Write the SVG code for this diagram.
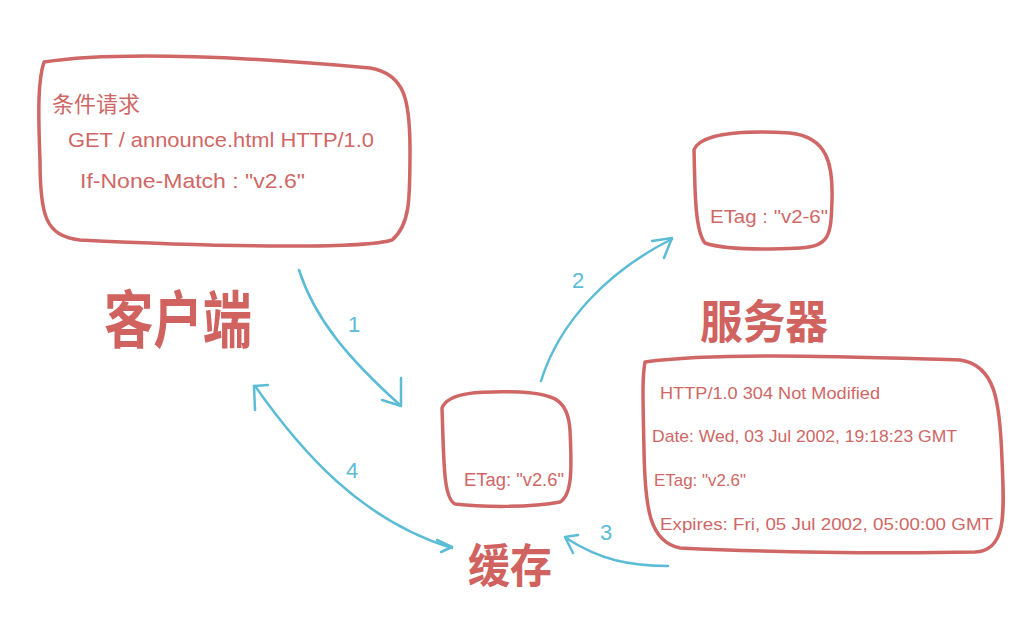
<svg xmlns="http://www.w3.org/2000/svg" width="1014" height="638" viewBox="0 0 1014 638">
<style>
.box{fill:none;stroke:#cf6766;stroke-width:3.5;stroke-linecap:round;stroke-linejoin:round}
.t{fill:#cf6766;font-family:"Liberation Sans","Noto Sans CJK SC",sans-serif}
.big{fill:#d0625f;font-family:"Noto Sans CJK SC",sans-serif;font-weight:bold}
.c{fill:none;stroke:#5cbcd6;stroke-width:2.5;stroke-linecap:round;stroke-linejoin:round}
.n{fill:#5cbcd6;font-family:"Liberation Sans",sans-serif;font-size:22px}
</style>
<rect width="1014" height="638" fill="#ffffff"/>
<g id="client">
<path class="box" d="M44,62 C120,50 260,58 370,68 C405,74 410,100 410,150 C410,200 410,225 392,240 C360,250 200,246 80,240 C45,236 40,215 40,160 C38,110 38,80 44,62 Z"/>
<text class="t" x="52" y="112" font-size="22">条件请求</text>
<text class="t" x="68" y="147" font-size="21" textLength="306" lengthAdjust="spacingAndGlyphs">GET / announce.html HTTP/1.0</text>
<text class="t" x="80" y="188" font-size="21" textLength="225" lengthAdjust="spacingAndGlyphs">If-None-Match : "v2.6"</text>
<text class="big" x="104" y="343" font-size="62" textLength="148" lengthAdjust="spacingAndGlyphs">客户端</text>
</g>
<g id="server">
<path class="box" d="M694,150 C700,134 740,130 790,133 C828,137 833,165 832,200 C831,235 830,246 800,248 C760,250 725,250 705,243 C694,230 695,180 694,150 Z"/>
<text class="t" x="710" y="223" font-size="19" textLength="118" lengthAdjust="spacingAndGlyphs">ETag : "v2-6"</text>
<text class="big" x="700" y="338" font-size="46" textLength="128" lengthAdjust="spacingAndGlyphs">服务器</text>
</g>
<g id="response">
<path class="box" d="M645,362 C720,352 850,357 960,360 C995,365 1000,400 1002,460 C1005,520 1005,550 975,552 C880,554 760,552 680,548 C650,542 645,510 644,450 C643,400 642,378 645,362 Z"/>
<text class="t" x="660" y="399" font-size="17" textLength="220" lengthAdjust="spacingAndGlyphs">HTTP/1.0  304  Not Modified</text>
<text class="t" x="652" y="442" font-size="17" textLength="305" lengthAdjust="spacingAndGlyphs">Date:  Wed, 03 Jul 2002, 19:18:23 GMT</text>
<text class="t" x="654" y="486" font-size="17" textLength="92" lengthAdjust="spacingAndGlyphs">ETag: "v2.6"</text>
<text class="t" x="660" y="530" font-size="17" textLength="333" lengthAdjust="spacingAndGlyphs">Expires: Fri, 05 Jul 2002, 05:00:00 GMT</text>
</g>
<g id="cache">
<path class="box" d="M442,408 C448,392 480,391 520,392 C555,394 568,400 570,430 C572,470 572,495 560,502 C530,508 480,507 455,504 C443,498 444,460 442,408 Z"/>
<text class="t" x="464" y="486" font-size="18" textLength="100" lengthAdjust="spacingAndGlyphs">ETag: "v2.6"</text>
<text class="big" x="468" y="582" font-size="46" textLength="84" lengthAdjust="spacingAndGlyphs">缓存</text>
</g>
<g id="connectors">
<path class="c" d="M299,270 C315,320 350,360 400,405"/>
<path class="c" d="M401,378 L401,406 L382,400"/>
<text class="n" x="348" y="332">1</text>
<path class="c" d="M541,381 C560,320 610,270 672,239"/>
<path class="c" d="M652,241 L672,238 L664,258"/>
<text class="n" x="572" y="288">2</text>
<path class="c" d="M668,566 C630,566 600,560 566,538"/>
<path class="c" d="M578,535 L565,537 L573,553"/>
<text class="n" x="600" y="540">3</text>
<path class="c" d="M255,386 C300,450 360,520 452,548"/>
<path class="c" d="M255,410 L254,386 L268,385"/>
<path class="c" d="M437,540 L452,547 L441,552"/>
<text class="n" x="346" y="478">4</text>
</g>
</svg>
